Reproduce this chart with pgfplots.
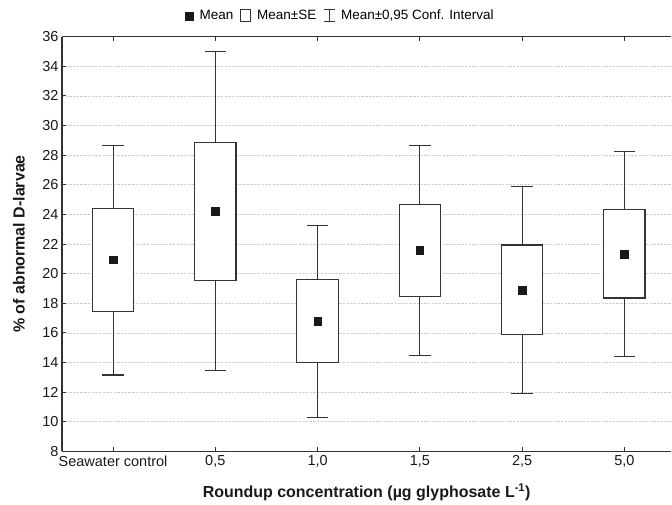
\documentclass[border=0pt]{standalone}
\usepackage{fontspec}
\setmainfont{Liberation Sans}
\usepackage{pgfplots}
\pgfplotsset{compat=1.18}
\usepgfplotslibrary{statistics}
\definecolor{ln}{HTML}{333333}
\definecolor{gr}{HTML}{CFCFCF}
\begin{document}
\begin{tikzpicture}
\begin{axis}[
  scale only axis, width=610pt, height=415pt,
  xmin=-0.5, xmax=5.46, ymin=8, ymax=36,
  clip=false,
  axis x line=box, axis y line=left,
  axis line style={-, line width=1.3pt, color=ln},
  every outer y axis line/.append style={-},
  every outer x axis line/.append style={-},
  ytick={8,10,...,36},
  xtick={0,1,2,3,4,5},
  xticklabels={Seawater control,{0,5},{1,0},{1,5},{2,5},{5,0}},
  tick align=inside, major tick length=4pt,
  tick style={ln, line width=0.9pt},
  ymajorgrids, grid style={dash pattern=on 2.5pt off 1.2pt, gr, line width=0.5pt},
  /pgf/number format/assume math mode=true,
  ticklabel style={font=\fontsize{14.5}{16}\selectfont, text=black!90},
  xticklabel style={yshift=-1pt},
  yticklabel style={xshift=0pt},
  xlabel={Roundup concentration (µg glyphosate L\textsuperscript{-1})},
  ylabel={\% of abnormal D-larvae},
  label style={font=\fontsize{16}{18}\selectfont\bfseries, text=black!90},
  xlabel style={at={(axis description cs:0.5,0)}, anchor=center, yshift=-41pt},
  ylabel style={at={(axis description cs:0,0.5)}, anchor=center, yshift=43pt},
  legend style={at={(0.457,1)}, anchor=south, yshift=13pt, draw=none, fill=none,
    font=\fontsize{13.5}{15}\selectfont, inner sep=0pt,
    /tikz/every odd column/.append style={column sep=4pt},
    /tikz/every even column/.append style={column sep=5pt}},
  legend columns=3,
  legend cell align=left,
  boxplot/draw direction=y,
  boxplot/box extend=0.405,
  boxplot/whisker extend=0.21,
  boxplot/draw/median/.code={},
]
\addlegendimage{legend image code/.code={\fill[black!90] (0pt,-4pt) rectangle (8pt,4pt);}}
\addlegendentry{Mean}
\addlegendimage{legend image code/.code={\draw[ln, line width=0.8pt, fill=white] (0pt,-6pt) rectangle (10pt,6.5pt);}}
\addlegendentry{Mean±SE}
\addlegendimage{legend image code/.code={\draw[ln, line width=0.8pt] (0pt,-6pt)--(11pt,-6pt) (5.5pt,-6pt)--(5.5pt,6.5pt) (0pt,6.5pt)--(11pt,6.5pt);}}
\addlegendentry{Mean±0,95 Conf. Interval}

\addplot[ln, line width=1.1pt, fill=white, forget plot,
  boxplot prepared={draw direction=y, lower whisker=13.15, lower quartile=17.43, median=20.93, upper quartile=24.38, upper whisker=28.65, draw position=0}] coordinates {};
\addplot[ln, line width=1.1pt, fill=white, forget plot,
  boxplot prepared={draw direction=y, lower whisker=13.47, lower quartile=19.56, median=24.22, upper quartile=28.88, upper whisker=34.99, draw position=1}] coordinates {};
\addplot[ln, line width=1.1pt, fill=white, forget plot,
  boxplot prepared={draw direction=y, lower whisker=10.29, lower quartile=13.98, median=16.77, upper quartile=19.60, upper whisker=23.25, draw position=2}] coordinates {};
\addplot[ln, line width=1.1pt, fill=white, forget plot,
  boxplot prepared={draw direction=y, lower whisker=14.48, lower quartile=18.48, median=21.56, upper quartile=24.65, upper whisker=28.65, draw position=3}] coordinates {};
\addplot[ln, line width=1.1pt, fill=white, forget plot,
  boxplot prepared={draw direction=y, lower whisker=11.89, lower quartile=15.87, median=18.89, upper quartile=21.93, upper whisker=25.90, draw position=4}] coordinates {};
\addplot[ln, line width=1.1pt, fill=white, forget plot,
  boxplot prepared={draw direction=y, lower whisker=14.41, lower quartile=18.35, median=21.32, upper quartile=24.33, upper whisker=28.27, draw position=5}] coordinates {};

\addplot[only marks, mark=square*, mark size=3.8pt, black!90, forget plot] coordinates {
  (0,20.93) (1,24.22) (2,16.77) (3,21.56) (4,18.89) (5,21.32)};

\path (rel axis cs:0,0) ++(-62pt,-53.3pt);
\path (rel axis cs:1,1) ++(0pt,36.7pt);
\end{axis}
\end{tikzpicture}
\end{document}
